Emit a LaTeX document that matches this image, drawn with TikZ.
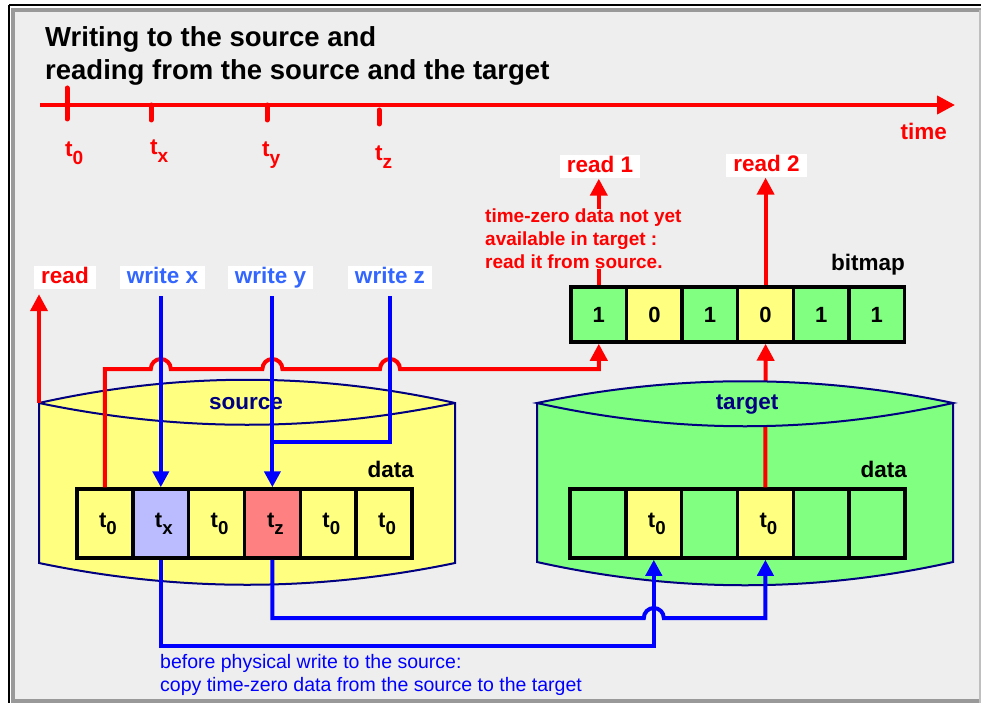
\documentclass[tikz,border=0pt]{standalone}
\usepackage{fontspec}
\setmainfont{Liberation Sans}
\usepackage{xcolor}
\usetikzlibrary{arrows.meta,positioning}

\definecolor{panel}{HTML}{EEEEEE}
\definecolor{framegray}{HTML}{999999}
\definecolor{lightyellow}{HTML}{FFFF80}
\definecolor{lightgreen}{HTML}{80FF80}
\definecolor{lavender}{HTML}{BBBBFF}
\definecolor{salmon}{HTML}{FF8080}
\definecolor{disknavy}{HTML}{000080}
\definecolor{writeblue}{HTML}{3366FF}
\definecolor{pureblue}{HTML}{0000FF}
\definecolor{purered}{HTML}{FF0000}

\newcommand{\tsub}[1]{t\raisebox{-0.32em}{\scalebox{0.85}{#1}}}

\tikzset{
  cellbox/.style={shape=rectangle, draw=black, line width=3.5pt, minimum width=55.8pt, minimum height=69pt, inner sep=0pt, font=\fontsize{22}{26}\selectfont\bfseries},
  bitbox/.style={cellbox, minimum height=55pt},
  oplabel/.style={fill=white, inner xsep=7pt, inner ysep=0pt, text height=17pt, text depth=6pt, font=\fontsize{22.5}{27}\selectfont\bfseries},
  boldlabel/.style={inner sep=0pt, font=\fontsize{22.5}{27}\selectfont\bfseries},
  redline/.style={draw=purered, line width=4pt},
  blueline/.style={draw=pureblue, line width=4pt},
  redarrow/.style={redline, -{Triangle[length=17pt,width=17pt]}},
  bluearrow/.style={blueline, -{Triangle[length=16pt,width=16pt]}},
  timetick/.style={draw=purered, line width=5pt, line cap=round},
  diskline/.style={draw=disknavy, line width=2pt}
}

\begin{document}
\begin{tikzpicture}[x=1pt, y=-1pt]

% frame
\fill[white] (0,0) rectangle (981,703);
\useasboundingbox (0,0) rectangle (981,703);
\fill[panel] (11,8) rectangle (981,703);
\draw[framegray, line width=4pt] (11,10) -- (981,10);
\draw[framegray, line width=4pt] (13,8) -- (13,703);
\draw[framegray, line width=4pt] (11,701) -- (981,701);
\draw[black!25, line width=2pt] (980,10) -- (980,703);
\draw[black, line width=2pt] (9,5) -- (981,5);
\draw[black, line width=2pt] (9,5) -- (9,703);

% title
\node [anchor=base west, inner sep=0pt, font=\fontsize{27.5}{33}\selectfont\bfseries] at (45,47) (title_a) {Writing to the source and};
\node [anchor=base west, inner sep=0pt, font=\fontsize{27.5}{33}\selectfont\bfseries] at (45,80) (title_b) {reading from the source and the target};

% time axis
\draw [redline, -{Triangle[length=18pt,width=18pt]}] (40,105) -- (955,105);
\draw [timetick] (67,88) -- (67,119);
\draw [timetick] (151,105) -- (151,120);
\draw [timetick] (267,105) -- (267,120);
\draw [timetick] (379,110) -- (379,124);
\node [boldlabel, text=purered, anchor=base west] at (65,157) (t_zero) {\tsub{0}};
\node [boldlabel, text=purered, anchor=base west] at (150,155) (t_x) {\tsub{x}};
\node [boldlabel, text=purered, anchor=base west] at (262,157) (t_y) {\tsub{y}};
\node [boldlabel, text=purered, anchor=base west] at (375,161) (t_z) {\tsub{z}};
\node [boldlabel, text=purered, anchor=base east] at (947,140) (time_lbl) {time};

% Source disk
\filldraw [diskline, fill=lightyellow] (39,403) .. controls (178,372) and (316,372) .. (455,403) -- (455,563) .. controls (316,592) and (178,592) .. (39,563) -- cycle;
\draw [diskline] (39,403) .. controls (178,432) and (316,432) .. (455,403);
\node [boldlabel, text=disknavy] at (246,404) (source_lbl) {source};
\node [boldlabel, anchor=base east] at (414,477) (src_data) {data};

\node [cellbox, fill=lightyellow] at (104.9,523.5) (src1) {\hspace*{6pt}\tsub{0}};
\node [cellbox, fill=lavender]    at (160.8,523.5) (src2) {\hspace*{6pt}\tsub{x}};
\node [cellbox, fill=lightyellow] at (216.6,523.5) (src3) {\hspace*{6pt}\tsub{0}};
\node [cellbox, fill=salmon]      at (272.4,523.5) (src4) {\hspace*{6pt}\tsub{z}};
\node [cellbox, fill=lightyellow] at (328.3,523.5) (src5) {\hspace*{6pt}\tsub{0}};
\node [cellbox, fill=lightyellow] at (384.1,523.5) (src6) {\hspace*{6pt}\tsub{0}};

% Bitmap
\node [boldlabel, anchor=base east] at (905,270) (bitmap_lbl) {bitmap};
\node [bitbox, fill=lightgreen]  at (598.8,314.5) (bit1) {1};
\node [bitbox, fill=lightyellow] at (654.4,314.5) (bit2) {0};
\node [bitbox, fill=lightgreen]  at (710.0,314.5) (bit3) {1};
\node [bitbox, fill=lightyellow] at (765.6,314.5) (bit4) {0};
\node [bitbox, fill=lightgreen]  at (821.2,314.5) (bit5) {1};
\node [bitbox, fill=lightgreen]  at (876.8,314.5) (bit6) {1};

% Target disk
\filldraw [diskline, fill=lightgreen] (537,403) -- (537,562) .. controls (676,593) and (814,593) .. (953,562) -- (953,403) -- cycle;
\node [cellbox, fill=lightgreen]  at (597.9,523.5) (tgt1) {};
\node [cellbox, fill=lightyellow] at (653.8,523.5) (tgt2) {\hspace*{6pt}\tsub{0}};
\node [cellbox, fill=lightgreen]  at (709.6,523.5) (tgt3) {};
\node [cellbox, fill=lightyellow] at (765.4,523.5) (tgt4) {\hspace*{6pt}\tsub{0}};
\node [cellbox, fill=lightgreen]  at (821.3,523.5) (tgt5) {};
\node [cellbox, fill=lightgreen]  at (877.1,523.5) (tgt6) {};
\node [boldlabel, anchor=base east] at (907,477) (tgt_data) {data};
\draw [redarrow] (tgt4.north) -- (bit4.south);
\filldraw [diskline, fill=lightgreen] (537,403) .. controls (676,374) and (814,374) .. (953,403) .. controls (814,434) and (676,434) .. (537,403) -- cycle;
\node [boldlabel, text=disknavy] at (747,405) (target_lbl) {target};

% reads
\node [oplabel, text=purered] at (65,277.5) (read_src) {read};
\node [oplabel, text=purered] at (600,167) (read_one) {read 1};
\node [oplabel, text=purered] at (766.5,166) (read_two) {read 2};
\coordinate (src_corner) at (39,403);
\draw [redarrow, shorten >=5pt] (src_corner) -- (src_corner |- read_src.south);
\draw [redarrow] (bit1.north) -- (bit1.north |- read_one.south);
\draw [redarrow] (bit4.north) -- (bit4.north |- read_two.south);
\node [anchor=north west, align=left, inner sep=0pt, fill=panel, text=purered, font=\fontsize{19}{23}\selectfont\bfseries] at (485,209) (note_read) {time-zero data not yet\\available in target :\\read it from source.};
\draw [redarrow] (src1.north) |- (150.8,369) arc[start angle=180, end angle=360, radius=10] -- (262.4,369) arc[start angle=180, end angle=360, radius=10] -- (380,369) arc[start angle=180, end angle=360, radius=10] -| (bit1.south);

% writes
\node [oplabel, text=writeblue] at (162.5,277.5) (write_x) {write x};
\node [oplabel, text=writeblue] at (270.5,277.5) (write_y) {write y};
\node [oplabel, text=writeblue] at (390,277.5) (write_z) {write z};
\draw [bluearrow, shorten <=7pt] (write_x.south -| src2.north) -- (src2.north);
\draw [bluearrow, shorten <=7pt] (write_y.south -| src4.north) -- (src4.north);
\draw [blueline, shorten <=7pt] (write_z.south) |- (src4.north |- 0,442);

% copy on write
\draw [bluearrow] (src2.south) |- (tgt2.south |- 0,646) -- (tgt2.south);
\draw [bluearrow] (src4.south) |- (643.8,618) arc[start angle=180, end angle=360, radius=10] -| (tgt4.south);
\node [anchor=base west, inner sep=0pt, text=pureblue, font=\fontsize{19.5}{23}\selectfont] at (160,668) (copy_a) {before physical write to the source:};
\node [anchor=base west, inner sep=0pt, text=pureblue, font=\fontsize{19.5}{23}\selectfont] at (160,691) (copy_b) {copy time-zero data from the source to the target};

\end{tikzpicture}
\end{document}
